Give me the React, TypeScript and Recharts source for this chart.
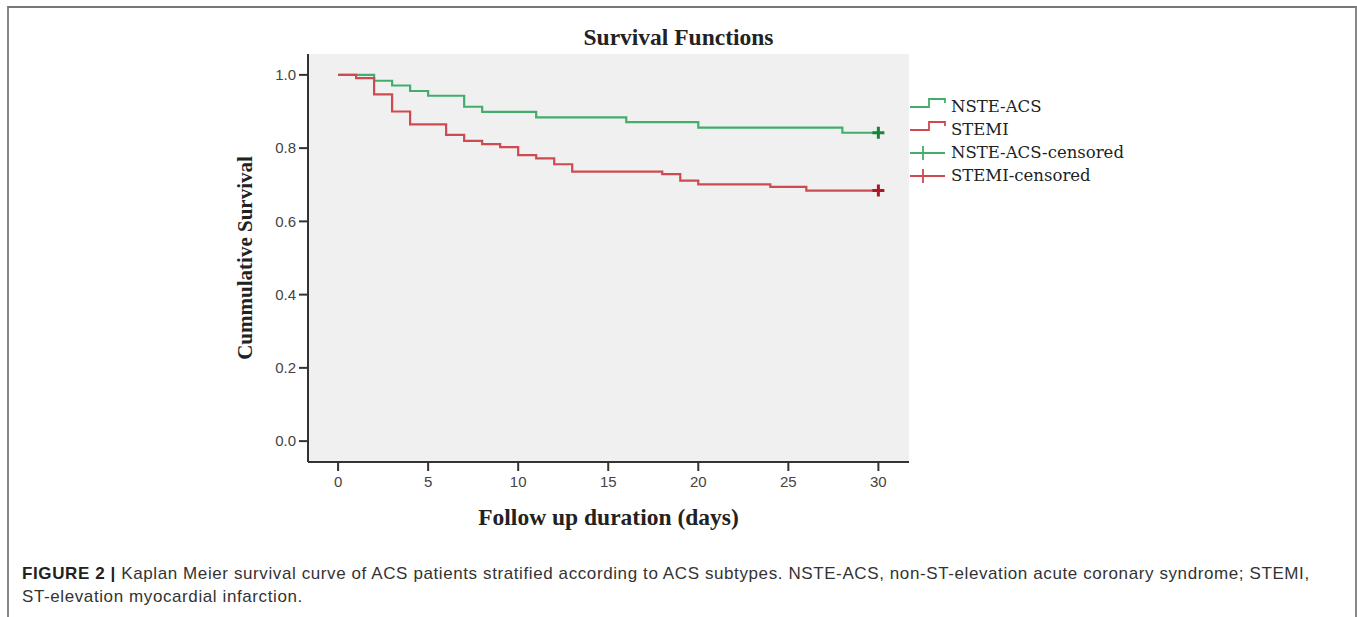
import React from 'react';
import {
  CartesianGrid,
  ComposedChart,
  Line,
  Scatter,
  XAxis,
  YAxis,
} from 'recharts';

// Kaplan-Meier step points (day, cumulative survival)
const nsteDays = [0, 2, 3, 4, 5, 7, 8, 11, 16, 20, 28, 30];
const nsteSurvival = [1.0, 0.984, 0.971, 0.956, 0.943, 0.913, 0.899, 0.884, 0.871, 0.856, 0.842, 0.842];
const stemiDays = [0, 1, 2, 3, 4, 6, 7, 8, 9, 10, 11, 12, 13, 18, 19, 20, 24, 26, 30];
const stemiSurvival = [
  1.0, 0.991, 0.947, 0.9, 0.865, 0.836, 0.82, 0.811, 0.803, 0.781, 0.772, 0.756, 0.736, 0.729, 0.711,
  0.701, 0.694, 0.684, 0.684,
];
// censored observations
const nsteCensored = [{ t: 30, s: 0.842 }];
const stemiCensored = [{ t: 30, s: 0.684 }];

const xTicks = [0, 5, 10, 15, 20, 25, 30];
const yTicks = [0, 0.2, 0.4, 0.6, 0.8, 1.0];

const legendItems = [
  { label: 'NSTE-ACS', kind: 'step', color: '#43ad6c' },
  { label: 'STEMI', kind: 'step', color: '#cf4a50' },
  { label: 'NSTE-ACS-censored', kind: 'cross', color: '#43ad6c' },
  { label: 'STEMI-censored', kind: 'cross', color: '#cf4a50' },
];

const nsteData = nsteDays.map((t, i) => ({ t, s: nsteSurvival[i] }));
const stemiData = stemiDays.map((t, i) => ({ t, s: stemiSurvival[i] }));

const SERIF = '"Liberation Serif", "Times New Roman", serif';
const SANS = '"Liberation Sans", Arial, sans-serif';
const AXIS = '#333';

function Plus(props: any) {
  const { cx, cy, fill } = props;
  return (
    <path d={`M${cx - 6},${cy}H${cx + 6}M${cx},${cy - 6}V${cy + 6}`} stroke={fill} strokeWidth={3} fill="none" />
  );
}

function KmLegend() {
  return (
    <svg width={240} height={100} style={{ position: 'absolute', left: 905, top: 95 }}>
      {legendItems.map((it, i) => {
        const y = 12 + i * 23;
        return (
          <g key={it.label}>
            {it.kind === 'step' ? (
              <path
                d={`M5,${y}H24V${y - 8}H40V${y - 4}`}
                stroke={it.color}
                strokeWidth={1.8}
                fill="none"
              />
            ) : (
              <path d={`M5,${y}H40M18,${y - 7}V${y + 7}`} stroke={it.color} strokeWidth={1.8} fill="none" />
            )}
            <text x={46} y={y + 5} fontFamily='"DejaVu Serif", serif' fontSize={16.5} fill="#222">
              {it.label}
            </text>
          </g>
        );
      })}
    </svg>
  );
}

export default function App() {
  return (
    <div style={{ position: 'relative', width: 1357, height: 617, background: '#fff', overflow: 'hidden' }}>
      <style>{'body{margin:0}'}</style>
      <div
        style={{
          position: 'absolute',
          left: 7,
          top: 6,
          width: 1346,
          height: 700,
          borderTop: '2px solid #777',
          borderLeft: '2px solid #888',
          borderRight: '2px solid #888',
        }}
      />
      <div
        style={{
          position: 'absolute',
          left: 0,
          top: 24,
          width: 1357,
          textAlign: 'center',
          fontFamily: SERIF,
          fontWeight: 'bold',
          fontSize: 23.5,
          color: '#222',
        }}
      >
        Survival Functions
      </div>
      <div style={{ position: 'absolute', left: 0, top: 0 }}>
        <ComposedChart width={1357} height={540} margin={{ top: 54, right: 448, bottom: 8, left: 238 }}>
          <CartesianGrid fill="#f0f0f0" horizontal={false} vertical={false} />
          <XAxis
            type="number"
            dataKey="t"
            domain={[-1.67, 31.7]}
            ticks={xTicks}
            allowDataOverflow
            height={70}
            tickSize={9}
            tickMargin={5}
            tick={{ fill: '#444', fontSize: 15, fontFamily: SANS }}
            tickLine={{ stroke: AXIS, strokeWidth: 2 }}
            axisLine={{ stroke: AXIS, strokeWidth: 2 }}
            label={{
              value: 'Follow up duration (days)',
              position: 'insideBottom',
              offset: 7,
              style: { fontFamily: SERIF, fontWeight: 'bold', fontSize: 23.5, fill: '#222' },
            }}
          />
          <XAxis
            xAxisId="top"
            orientation="top"
            type="number"
            domain={[-1.67, 31.7]}
            height={0}
            tick={false}
            tickLine={false}
            axisLine={{ stroke: '#555', strokeWidth: 2 }}
          />
          <YAxis
            type="number"
            domain={[-0.057, 1.057]}
            ticks={yTicks}
            allowDataOverflow
            width={70}
            tickSize={9}
            tickMargin={3}
            tickFormatter={(v: number) => v.toFixed(1)}
            tick={{ fill: '#444', fontSize: 15, fontFamily: SANS }}
            tickLine={{ stroke: AXIS, strokeWidth: 2 }}
            axisLine={{ stroke: AXIS, strokeWidth: 2 }}
            label={{
              value: 'Cummulative Survival',
              angle: -90,
              position: 'insideLeft',
              offset: 7,
              style: { textAnchor: 'middle', fontFamily: SERIF, fontWeight: 'bold', fontSize: 21, fill: '#222' },
            }}
          />
          <YAxis
            yAxisId="right"
            orientation="right"
            type="number"
            domain={[-0.057, 1.057]}
            width={0}
            tick={false}
            tickLine={false}
            axisLine={{ stroke: AXIS, strokeWidth: 2 }}
          />
          <Line
            data={nsteData}
            dataKey="s"
            type="stepAfter"
            stroke="#43ad6c"
            strokeWidth={2.2}
            dot={false}
            isAnimationActive={false}
          />
          <Line
            data={stemiData}
            dataKey="s"
            type="stepAfter"
            stroke="#cf4a50"
            strokeWidth={2.2}
            dot={false}
            isAnimationActive={false}
          />
          <Scatter data={nsteCensored} dataKey="s" fill="#17853a" shape={<Plus />} isAnimationActive={false} />
          <Scatter data={stemiCensored} dataKey="s" fill="#b0162a" shape={<Plus />} isAnimationActive={false} />
        </ComposedChart>
      </div>
      <KmLegend />
      <div
        style={{
          position: 'absolute',
          left: 22,
          top: 562,
          width: 1330,
          fontFamily: SANS,
          fontSize: 17,
          letterSpacing: 0.6,
          lineHeight: '23px',
          color: '#333',
          whiteSpace: 'nowrap',
        }}
      >
        <b style={{ color: '#222' }}>FIGURE 2 |</b> Kaplan Meier survival curve of ACS patients stratified according
        to ACS subtypes. NSTE-ACS, non-ST-elevation acute coronary syndrome; STEMI,
        <br />
        ST-elevation myocardial infarction.
      </div>
    </div>
  );
}
